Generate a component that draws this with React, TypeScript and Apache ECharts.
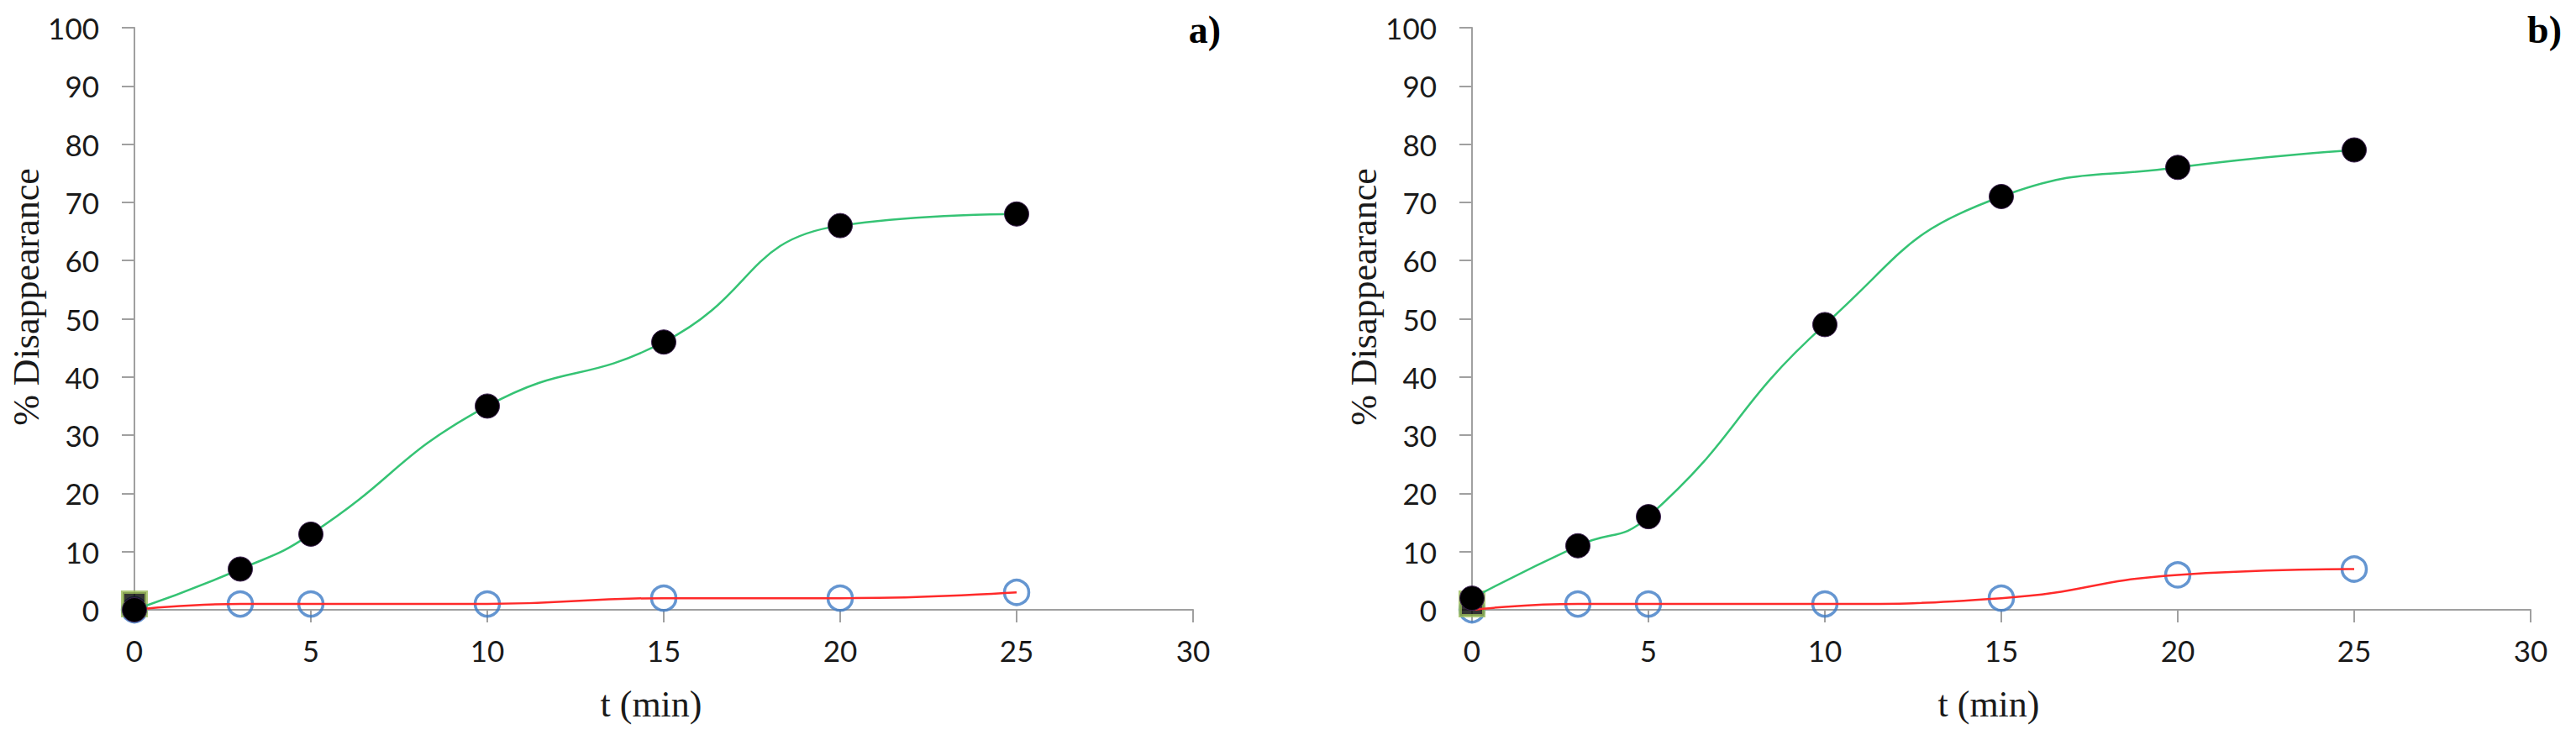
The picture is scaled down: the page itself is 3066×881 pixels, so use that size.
import React, { useEffect, useRef } from "react";
import * as echarts from "echarts";

// ---- data ----
const timeMin = [0, 3, 5, 10, 15, 20, 25];
const disappearanceA = [0, 7, 13, 35, 46, 66, 68];
const controlA = [0, 1, 1, 1, 2, 2, 3];
const initialA = [1];
const disappearanceB = [2, 11, 16, 49, 71, 76, 79];
const controlB = [0, 1, 1, 1, 2, 6, 7];
const initialB = [1];
const panelLabels = ["a)", "b)"];
const xAxisTitle = "t (min)";
const yAxisTitle = "% Disappearance";

const pairs = (xs: number[], ys: number[]) => xs.map((x, i) => [x, ys[i]]);

const AXIS_GRAY = "#a0a0a0";
const TEXT = "#1a1a1a";

function buildPanelSeries(idx: number, main: number[], control: number[], initial: number[]) {
  return [
    {
      type: "line",
      xAxisIndex: idx,
      yAxisIndex: idx,
      data: pairs(timeMin, control),
      smooth: 0.5,
      showSymbol: false,
      symbol: "none",
      lineStyle: { color: "#ff2a2a", width: 2.5 },
      silent: true,
    },
    {
      type: "scatter",
      xAxisIndex: idx,
      yAxisIndex: idx,
      data: pairs(timeMin, control),
      symbol: "circle",
      symbolSize: 29,
      itemStyle: { color: "rgba(255,255,255,0)", borderColor: "#3f7cc6", borderWidth: 3.5 },
      silent: true,
    },
    {
      type: "scatter",
      xAxisIndex: idx,
      yAxisIndex: idx,
      data: pairs([timeMin[0]], initial),
      symbol: "rect",
      symbolSize: 28,
      itemStyle: { color: "#000000", borderColor: "#9bbb59", borderWidth: 4 },
      silent: true,
    },
    {
      type: "line",
      xAxisIndex: idx,
      yAxisIndex: idx,
      data: pairs(timeMin, main),
      smooth: 0.5,
      symbol: "circle",
      symbolSize: 29,
      showSymbol: true,
      itemStyle: { color: "#000000", borderColor: "#3b1f4f", borderWidth: 1 },
      lineStyle: { color: "#35c374", width: 2.5 },
      silent: true,
    },
  ];
}

function buildXAxis(idx: number) {
  return {
    type: "value",
    gridIndex: idx,
    min: 0,
    max: 30,
    interval: 5,
    name: xAxisTitle,
    nameLocation: "middle",
    nameGap: 90,
    nameTextStyle: {
      fontFamily: "Liberation Serif",
      fontSize: 44,
      color: TEXT,
      padding: [0, 30, 0, 0],
    },
    axisLine: { show: true, onZero: false, lineStyle: { color: AXIS_GRAY, width: 2 } },
    axisTick: { show: true, length: 15, lineStyle: { color: AXIS_GRAY, width: 2 } },
    axisLabel: { fontFamily: "Lato", fontSize: 35, color: TEXT, margin: 30 },
    splitLine: { show: false },
  };
}

function buildYAxis(idx: number) {
  return {
    type: "value",
    gridIndex: idx,
    min: 0,
    max: 100,
    interval: 10,
    name: yAxisTitle,
    nameLocation: "middle",
    nameGap: 100,
    nameTextStyle: {
      fontFamily: "Liberation Serif",
      fontSize: 44,
      color: TEXT,
      padding: [0, 0, 0, 52],
    },
    axisLine: { show: true, onZero: false, lineStyle: { color: AXIS_GRAY, width: 2 } },
    axisTick: { show: true, length: 15, lineStyle: { color: AXIS_GRAY, width: 2 } },
    axisLabel: { fontFamily: "Lato", fontSize: 35, color: TEXT, margin: 42 },
    splitLine: { show: false },
  };
}

export default function App() {
  const ref = useRef<HTMLDivElement | null>(null);

  useEffect(() => {
    document.body.style.margin = "0";
    if (!ref.current) return;
    const chart = echarts.init(ref.current, null, { renderer: "svg" });
    chart.setOption({
      animation: false,
      backgroundColor: "#ffffff",
      title: [
        {
          text: panelLabels[0],
          right: 3066 - 1453,
          top: 12,
          padding: 0,
          textStyle: { fontFamily: "Liberation Serif", fontWeight: "bold", fontSize: 46, color: "#000" },
        },
        {
          text: panelLabels[1],
          right: 3066 - 3049,
          top: 12,
          padding: 0,
          textStyle: { fontFamily: "Liberation Serif", fontWeight: "bold", fontSize: 46, color: "#000" },
        },
      ],
      grid: [
        { left: 160, top: 33, width: 1260, height: 693, containLabel: false },
        { left: 1752, top: 33, width: 1260, height: 693, containLabel: false },
      ],
      xAxis: [buildXAxis(0), buildXAxis(1)],
      yAxis: [buildYAxis(0), buildYAxis(1)],
      series: [
        ...buildPanelSeries(0, disappearanceA, controlA, initialA),
        ...buildPanelSeries(1, disappearanceB, controlB, initialB),
      ],
    });
    return () => {
      chart.dispose();
    };
  }, []);

  return <div ref={ref} style={{ width: "3066px", height: "881px" }} />;
}
